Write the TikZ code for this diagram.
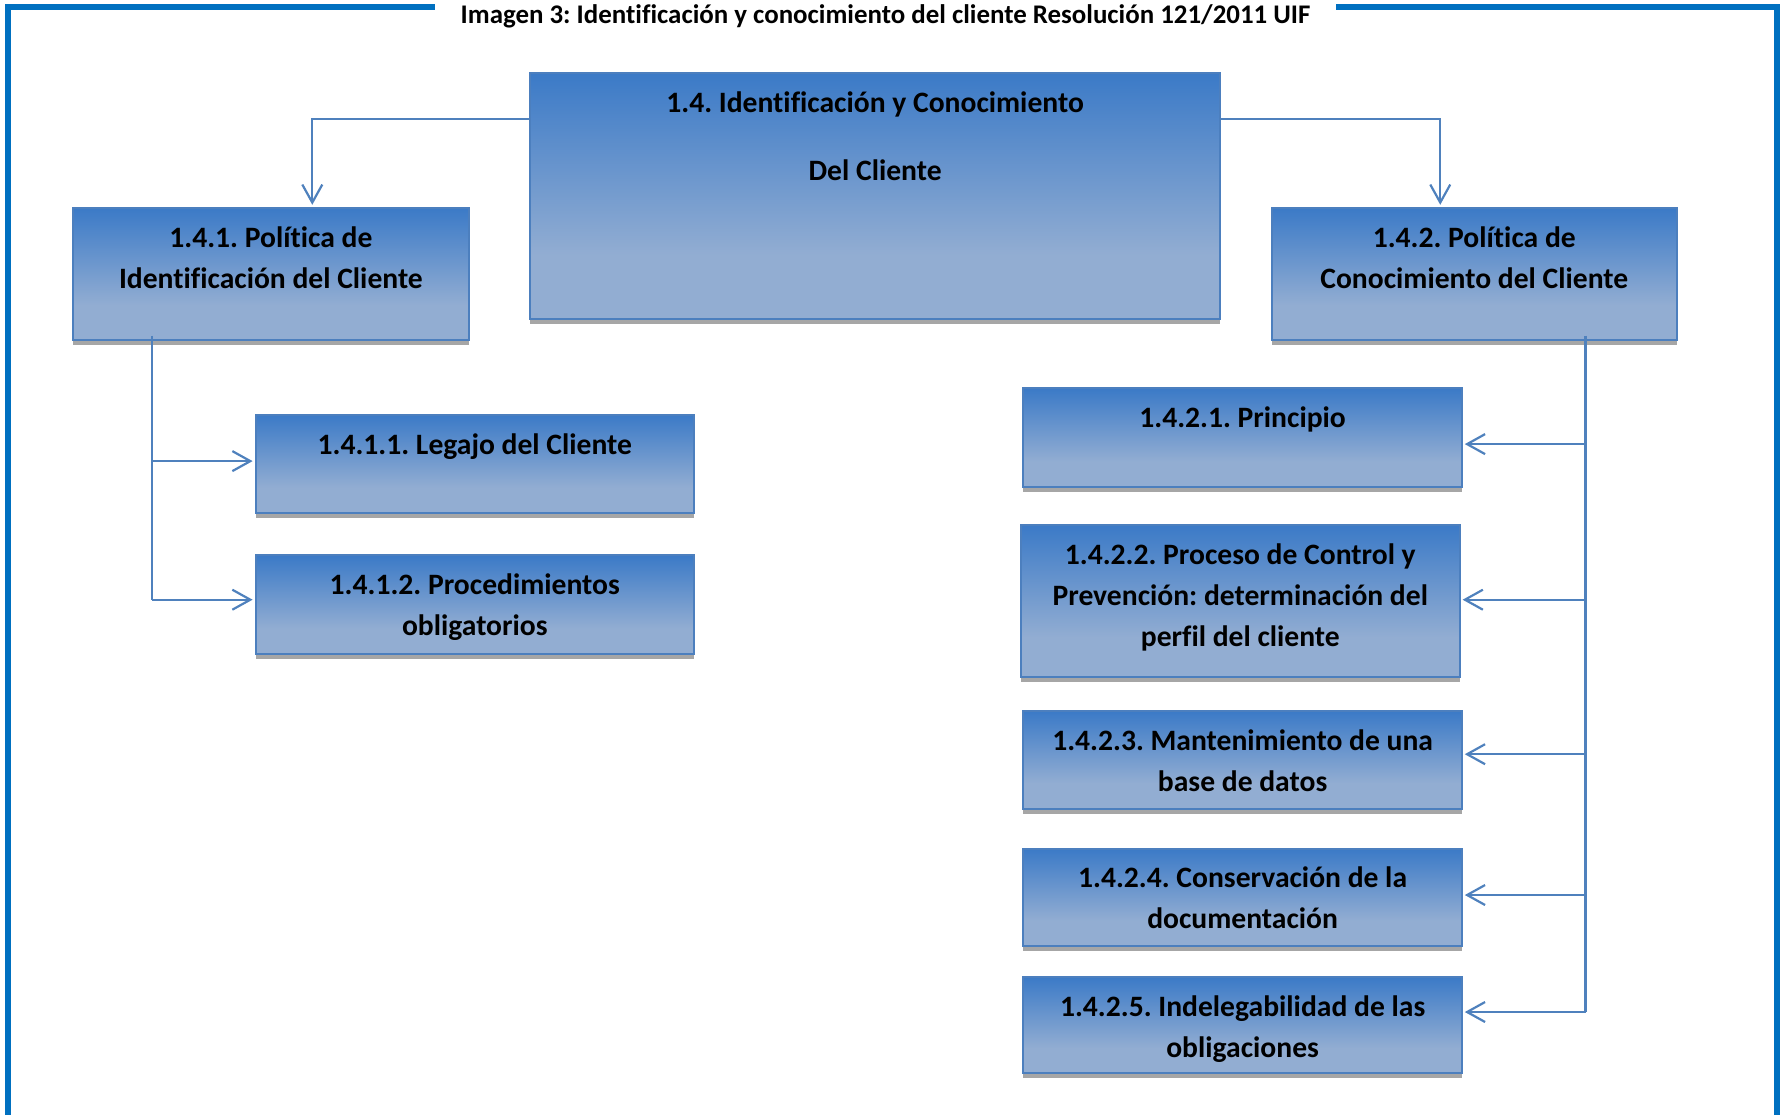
\documentclass[tikz,border=0pt]{standalone}
\usepackage{fontspec}
\setmainfont{Carlito}[Ligatures=NoCommon]
\usetikzlibrary{arrows.meta,calc,shadows}
\frenchspacing

\definecolor{framebl}{RGB}{0,112,192}
\definecolor{boxdark}{RGB}{59,122,199}
\definecolor{boxlight}{RGB}{146,173,210}
\definecolor{boxedge}{RGB}{76,127,190}
\definecolor{linkbl}{RGB}{79,129,189}
\definecolor{shadowgray}{RGB}{166,166,166}

% dark blue at the top fading to pale blue in the lower part
\pgfdeclareverticalshading{boxshade}{100bp}{color(0bp)=(boxlight); color(25bp)=(boxlight); color(38bp)=(boxlight); color(75bp)=(boxdark); color(100bp)=(boxdark)}

\newcommand\lblstrut{\rule{0pt}{19.5pt}}
\newcommand\bodyfont{\fontsize{14.8}{20.5}\selectfont\bfseries}
\newcommand\headfont{\fontsize{14.8}{34}\selectfont\bfseries}
\newcommand\titlefont{\fontsize{13.45}{16}\selectfont\bfseries}

\begin{document}
\begin{tikzpicture}[x=0.5pt,y=-0.5pt,
  box/.style={draw=boxedge, line width=1pt, shade, shading=boxshade,
    anchor=north west, inner sep=0pt, outer sep=0pt,
    drop shadow={shadow xshift=0pt, shadow yshift=-2.5pt, opacity=1, fill=shadowgray}},
  lbl/.style={anchor=north, inner sep=0pt, align=center, font=\bodyfont, text=black},
  conn/.style={draw=linkbl, line width=1.1pt},
  arr/.style={-{Straight Barb[length=9pt,width=10pt,line width=1.1pt]}, shorten >=1.5pt},
  frame/.style={draw=framebl, line width=3pt, line join=miter}
]
\useasboundingbox (0,0) rectangle (1781,1114);

% outer frame, open at the top around the caption
\draw[frame] (8,1125) -- (8,7) -- (435,7);
\draw[frame] (1336,7) -- (1777,7) -- (1777,1125);

\node[anchor=base, font=\titlefont, inner sep=0pt] (title) at (885.5,23)
  {Imagen 3: Identificación y conocimiento del cliente Resolución 121/2011 UIF};

% boxes
\node[box, minimum width=344.7pt, minimum height=123.25pt] (top)   at (530.4,72.7) {};
\node[box, minimum width=198.2pt, minimum height=65.9pt]   (b141)  at (72.7,207.8) {};
\node[box, minimum width=202.25pt, minimum height=65.9pt]  (b142)  at (1272,207.8) {};
\node[box, minimum width=219.2pt, minimum height=49.4pt]   (b1411) at (255.6,414.6) {};
\node[box, minimum width=219.2pt, minimum height=49.4pt]   (b1412) at (255.6,555.4) {};
\node[box, minimum width=219.2pt, minimum height=49.4pt]   (b1421) at (1023.4,388.4) {};
\node[box, minimum width=219.3pt, minimum height=76.15pt]  (b1422) at (1021,524.7) {};
\node[box, minimum width=219.2pt, minimum height=48.85pt]  (b1423) at (1023.4,711) {};
\node[box, minimum width=219.2pt, minimum height=48.75pt]  (b1424) at (1023.4,848.5) {};
\node[box, minimum width=219.2pt, minimum height=48.25pt]  (b1425) at (1023.4,976.8) {};

% labels
\node[lbl, font=\headfont] (ltop) at (top.north) {\lblstrut 1.4. Identificación y Conocimiento\\Del Cliente};
\node[lbl] (l141)  at (b141.north)  {\lblstrut 1.4.1. Política de\\Identificación del Cliente};
\node[lbl] (l142)  at (b142.north)  {\lblstrut 1.4.2. Política de\\Conocimiento del Cliente};
\node[lbl] (l1411) at (b1411.north) {\lblstrut 1.4.1.1. Legajo del Cliente};
\node[lbl] (l1412) at (b1412.north) {\lblstrut 1.4.1.2. Procedimientos\\obligatorios};
\node[lbl] (l1421) at (b1421.north) {\lblstrut 1.4.2.1. Principio};
\node[lbl] (l1422) at (b1422.north) {\lblstrut 1.4.2.2. Proceso de Control y\\Prevención: determinación del\\perfil del cliente};
\node[lbl] (l1423) at (b1423.north) {\lblstrut 1.4.2.3. Mantenimiento de una\\base de datos};
\node[lbl] (l1424) at (b1424.north) {\lblstrut 1.4.2.4. Conservación de la\\documentación};
\node[lbl] (l1425) at (b1425.north) {\lblstrut 1.4.2.5. Indelegabilidad de las\\obligaciones};

% connectors from the main box to the two policies
\coordinate (tl)  at ($(top.north west)+(0,46.6)$);
\coordinate (tle) at ($(b141.north)+(41.4,0)$);
\coordinate (tr)  at ($(top.north east)+(0,46.6)$);
\coordinate (tre) at ($(b142.north)+(-34,0)$);
\draw[conn,arr] (tl) -| (tle);
\draw[conn,arr] (tr) -| (tre);

% left branch
\coordinate (lt) at ($(b141.south)+(-118.7,-4)$);
\coordinate (la1) at ($(b1411.north west)+(0,46.5)$);
\coordinate (la2) at ($(b1412.north west)+(0,44.3)$);
\draw[conn] (lt) -- (lt |- la2);
\draw[conn,arr] (lt |- la1) -- (la1);
\draw[conn,arr] (lt |- la2) -- (la2);

% right branch
\coordinate (rt) at ($(b142.south)+(111.3,-4)$);
\coordinate (ra1) at ($(b1421.north east)+(0,55.7)$);
\coordinate (ra2) at ($(b1422.north east)+(0,75)$);
\coordinate (ra3) at ($(b1423.north east)+(0,43.2)$);
\coordinate (ra4) at ($(b1424.north east)+(0,46.5)$);
\coordinate (ra5) at ($(b1425.north east)+(0,35.2)$);
\draw[conn] (rt) -- (rt |- ra5);
\foreach \k in {1,...,5}
  \draw[conn,arr] (rt |- ra\k) -- (ra\k);
\end{tikzpicture}
\end{document}
